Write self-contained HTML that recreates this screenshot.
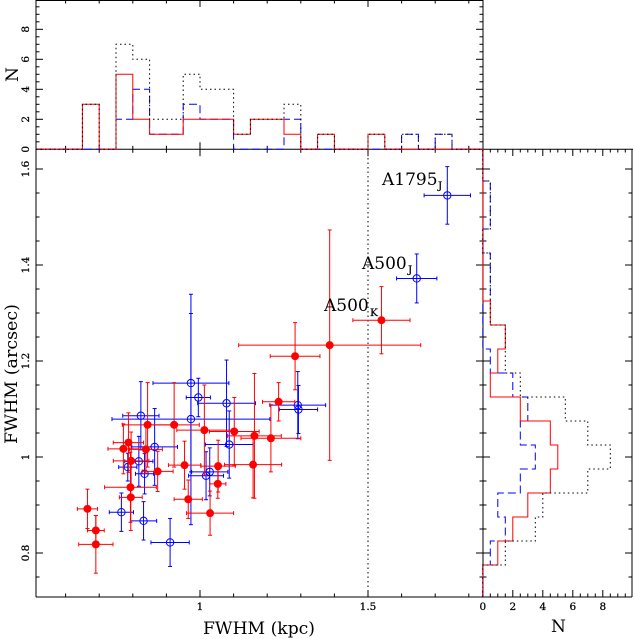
<!DOCTYPE html>
<html>
<head>
<meta charset="utf-8">
<title>FWHM chart</title>
<style>
html,body{margin:0;padding:0;background:#fff;}
svg{display:block;}
text{font-family:"DejaVu Serif","Liberation Serif",serif;fill:#000;}
.tick{font-size:10.5px;stroke:#000;stroke-width:0.25px;}
.lab{font-size:17px;}
.sub{font-size:10.5px;stroke:#000;stroke-width:0.25px;}
</style>
</head>
<body>
<svg id="chart" width="633" height="639" viewBox="0 0 633 639" xmlns="http://www.w3.org/2000/svg">
<defs>
<clipPath id="top-clip"><rect x="36" y="0" width="447" height="150"/></clipPath>
<clipPath id="right-clip"><rect x="482" y="149" width="150" height="448"/></clipPath>
<clipPath id="main-clip"><rect x="36" y="149" width="447" height="448"/></clipPath>
</defs>
<rect x="0" y="0" width="633" height="639" fill="#fff"/>
<g id="axes"></g>
<g id="marks-main" clip-path="url(#main-clip)"></g>
<g id="hist-top" clip-path="url(#top-clip)"></g>
<g id="hist-right" clip-path="url(#right-clip)"></g>
<text class="lab" x="203" y="634" textLength="112" lengthAdjust="spacingAndGlyphs">FWHM (kpc)</text>
<text class="lab" transform="translate(17,444) rotate(-90)" x="0" y="0" textLength="140" lengthAdjust="spacingAndGlyphs">FWHM (arcsec)</text>
<text class="lab" transform="translate(18,82) rotate(-90)" x="0" y="0">N</text>
<text class="lab" x="551" y="632">N</text>
<g><text class="lab" x="382" y="185">A1795</text><text class="sub" x="438" y="189">J</text></g>
<g><text class="lab" x="362" y="269">A500</text><text class="sub" x="408" y="273">J</text></g>
<g><text class="lab" x="324" y="311">A500</text><text class="sub" x="370" y="316">K</text></g>
</svg>
<script>
const redX = [0.665,0.690,0.690,0.794,0.793,0.965,0.844,0.923,1.013,1.102,1.162,1.211,1.234,1.158,1.054,0.954,1.053,1.030,0.787,0.772,0.839,0.795,0.874,1.540,1.386,1.283];
const redY = [0.892,0.847,0.818,0.916,0.937,0.912,1.067,1.067,1.056,1.053,1.044,1.039,1.115,0.984,0.981,0.983,0.944,0.883,1.030,1.017,1.016,0.992,0.970,1.285,1.233,1.210];
const redXErr = [0.030,0.025,0.051,0.034,0.077,0.042,0.075,0.075,0.082,0.074,0.080,0.089,0.048,0.085,0.051,0.048,0.024,0.070,0.045,0.046,0.049,0.053,0.046,0.085,0.271,0.074];
const redYErr = [0.041,0.031,0.060,0.069,0.073,0.040,0.088,0.088,0.094,0.071,0.130,0.070,0.040,0.069,0.054,0.050,0.030,0.046,0.062,0.052,0.050,0.060,0.042,0.070,0.240,0.070];
const blueX = [1.736,1.645,0.973,0.973,0.995,1.079,1.087,1.291,1.293,1.029,1.018,0.824,0.865,0.818,0.785,0.835,0.766,0.832,0.911];
const blueY = [1.545,1.372,1.154,1.079,1.124,1.112,1.026,1.108,1.099,0.969,0.961,1.086,1.021,0.991,0.979,0.965,0.885,0.867,0.822];
const blueXErr = [0.069,0.060,0.113,0.235,0.036,0.086,0.071,0.083,0.057,0.054,0.052,0.054,0.068,0.042,0.027,0.027,0.036,0.039,0.057];
const blueYErr = [0.060,0.051,0.185,0.220,0.040,0.090,0.070,0.070,0.050,0.050,0.050,0.071,0.080,0.052,0.029,0.042,0.040,0.040,0.050];

const topBinStarts = [0.65,0.70,0.75,0.80,0.85,0.90,0.95,1.00,1.05,1.10,1.15,1.20,1.25,1.30,1.35,1.40,1.45,1.50,1.55,1.60,1.65,1.70,1.75,1.80];
const topRed = [3,0,5,2,1,1,2,2,2,1,2,2,1,0,1,0,0,1,0,0,0,0,0,0];
const topBlue = [0,0,2,4,1,1,3,2,2,0,0,0,2,0,0,0,0,0,0,1,0,1,0,0];
const topTotal = [3,0,7,6,2,2,5,4,4,1,2,2,3,0,1,0,0,1,0,1,0,1,0,0];

const rightBinStarts = [0.775,0.825,0.875,0.925,0.975,1.025,1.075,1.125,1.175,1.225,1.275,1.325,1.375,1.425,1.475,1.525,1.575];
const rightRed = [1,2,3,4.5,5,4.5,2.5,0.5,1,1.5,0.5,0,0,0,0,0,0];
const rightBlue = [0.5,1.5,1,2.5,3.5,2.5,3,2,0.5,0,0,0.5,0.5,0,0.5,0.5,0];
const rightTotal = [1.5,3.5,4,7,8.5,7,5.5,2.5,1.5,1.5,0.5,0.5,0.5,0,0.5,0.5,0];

const xTickValues = [0.6,0.7,0.8,0.9,1.0,1.1,1.2,1.3,1.4,1.5,1.6,1.7,1.8];
const xMajorValues = [1.0,1.5];
const xMajorLabels = ["1","1.5"];
const yTickValues = [0.75,0.8,0.85,0.9,0.95,1.0,1.05,1.1,1.15,1.2,1.25,1.3,1.35,1.4,1.45,1.5,1.55,1.6];
const yMajorValues = [0.8,1.0,1.2,1.4,1.6];
const yMajorLabels = ["0.8","1","1.2","1.4","1.6"];
const nTickValues = [0,0.5,1,1.5,2,2.5,3,3.5,4,4.5,5,5.5,6,6.5,7,7.5,8,8.5,9,9.5];
const nMajorValues = [0,2,4,6,8];
const nMajorLabels = ["0","2","4","6","8"];
const referenceX = [1.5];

function xScale(v){ return 200 + (v - 1) * 336; }
function yScale(v){ return 457 - (v - 1) * 480; }
function nTopScale(n){ return 149.3 - 15 * n; }
function nRightScale(n){ return 482.8 + 15 * n; }

const NS = 'http://www.w3.org/2000/svg';
const axes = document.getElementById('axes');
const main = document.getElementById('marks-main');
const histTop = document.getElementById('hist-top');
const histRight = document.getElementById('hist-right');

function addLine(parent, name, x1, y1, x2, y2, color, w, dash){
  const el = document.createElementNS(NS, 'line');
  el.setAttribute('x1', x1);
  el.setAttribute('y1', y1);
  el.setAttribute('x2', x2);
  el.setAttribute('y2', y2);
  el.setAttribute('stroke', color);
  el.setAttribute('stroke-width', w);
  if (dash) el.setAttribute('stroke-dasharray', dash);
  
  
  parent.appendChild(el);
  return el;
}
function addPath(parent, name, d, color, w, dash){
  const el = document.createElementNS(NS, 'path');
  el.setAttribute('d', d);
  el.setAttribute('fill', 'none');
  el.setAttribute('stroke', color);
  el.setAttribute('stroke-width', w);
  if (dash) el.setAttribute('stroke-dasharray', dash);
  
  
  parent.appendChild(el);
  return el;
}
function addText(parent, name, str, x, y, rot){
  const el = document.createElementNS(NS, 'text');
  el.setAttribute('class', 'tick');
  el.setAttribute('text-anchor', 'middle');
  if (rot) {
    el.setAttribute('transform', 'translate(' + x + ',' + y + ') rotate(-90)');
  } else {
    el.setAttribute('x', x);
    el.setAttribute('y', y);
  }
  el.textContent = str;
  
  
  parent.appendChild(el);
  return el;
}

/* histograms: blue under red, black dotted on top, flat at zero outside the bins */
function histTopPath(starts, counts){
  let d = 'M36 ' + nTopScale(0) + ' L' + xScale(starts[0]) + ' ' + nTopScale(0);
  starts.forEach(function(s, i){
    const w = starts[1] - starts[0];
    d += ' L' + xScale(s) + ' ' + nTopScale(counts[i]);
    d += ' L' + xScale(s + w) + ' ' + nTopScale(counts[i]);
  });
  return d + ' L' + xScale(starts[starts.length - 1] + starts[1] - starts[0]) + ' ' + nTopScale(0);
}
function histRightPath(starts, counts){
  let d = 'M' + nRightScale(0) + ' 597 L' + nRightScale(0) + ' ' + yScale(starts[0]);
  starts.forEach(function(s, i){
    const w = starts[1] - starts[0];
    d += ' L' + nRightScale(counts[i]) + ' ' + yScale(s);
    d += ' L' + nRightScale(counts[i]) + ' ' + yScale(s + w);
  });
  return d + ' L' + nRightScale(0) + ' ' + yScale(starts[starts.length - 1] + starts[1] - starts[0]) + ' L' + nRightScale(0) + ' 149';
}
const DOT = '1.5 3';
const DASH = '8 4';
addPath(histTop, 'top-blue-histogram', histTopPath(topBinStarts, topBlue), '#0000ff', 1, DASH);
addPath(histTop, 'top-red-histogram', histTopPath(topBinStarts, topRed), '#ff0000', 1);
addPath(histTop, 'top-total-histogram', histTopPath(topBinStarts, topTotal), '#000', 1, DOT);
addPath(histRight, 'right-blue-histogram', histRightPath(rightBinStarts, rightBlue), '#0000ff', 1, DASH);
addPath(histRight, 'right-red-histogram', histRightPath(rightBinStarts, rightRed), '#ff0000', 1);
addPath(histRight, 'right-total-histogram', histRightPath(rightBinStarts, rightTotal), '#000', 1, DOT);

/* reference line */
referenceX.forEach(function(v){
  addLine(main, 'reference-line', xScale(v), 149, xScale(v), 597, '#000', 1, DOT);
});

/* points */
function drawPoint(kind, color, x, y, xe, ye, filled){
  const g = document.createElementNS(NS, 'g');
  
  
  main.appendChild(g);
  const px = xScale(x), py = yScale(y);
  const x0 = xScale(x - xe), x1 = xScale(x + xe);
  const y0 = yScale(y - ye), y1 = yScale(y + ye);
  addLine(g, kind + '-x-error', x0, py, x1, py, color, 1);
  addLine(g, kind + '-y-error', px, y0, px, y1, color, 1);
  addLine(g, kind + '-cap', x0, py - 2, x0, py + 2, color, 1);
  addLine(g, kind + '-cap', x1, py - 2, x1, py + 2, color, 1);
  addLine(g, kind + '-cap', px - 2, y0, px + 2, y0, color, 1);
  addLine(g, kind + '-cap', px - 2, y1, px + 2, y1, color, 1);
  const c = document.createElementNS(NS, 'circle');
  c.setAttribute('cx', px);
  c.setAttribute('cy', py);
  c.setAttribute('r', filled ? 4 : 3.7);
  c.setAttribute('fill', filled ? color : 'none');
  c.setAttribute('stroke', filled ? 'none' : color);
  c.setAttribute('stroke-width', 1);
  
  
  g.appendChild(c);
}
blueX.forEach(function(v, i){
  drawPoint('blue', '#0000ff', v, blueY[i], blueXErr[i], blueYErr[i], false);
});
redX.forEach(function(v, i){
  drawPoint('red', '#ff0000', v, redY[i], redXErr[i], redYErr[i], true);
});

/* frames */
const K = '#000';
addLine(axes, 'top-panel-top-border', 36, 0.5, 483, 0.5, K, 1);
addLine(axes, 'main-left-border', 36, 0, 36, 597, K, 1);
addLine(axes, 'main-right-border', 483, 0, 483, 597, K, 1);
addLine(axes, 'panel-divider', 36, 149.3, 633, 149.3, K, 1);
addLine(axes, 'bottom-border', 36, 597, 632, 597, K, 1);
addLine(axes, 'right-panel-right-border', 632, 149, 632, 597, K, 1);

/* x ticks for scatter and top histogram */
xTickValues.forEach(function(v){
  const L = xMajorValues.indexOf(v) >= 0 ? 7 : 3.5;
  const p = xScale(v);
  addLine(axes, 'x-tick', p, 0, p, L, K, 1);
  addLine(axes, 'x-tick', p, 149.3 - L, p, 149.3 + L, K, 1);
  addLine(axes, 'x-tick', p, 597 - L, p, 597, K, 1);
});
xMajorValues.forEach(function(v, i){
  addText(axes, 'x-tick-label', xMajorLabels[i], xScale(v), 610, false);
});

/* y ticks for scatter and right histogram */
yTickValues.forEach(function(v){
  const L = yMajorValues.indexOf(v) >= 0 ? 7 : 3.5;
  const p = yScale(v);
  addLine(axes, 'y-tick', 36, p, 36 + L, p, K, 1);
  addLine(axes, 'y-tick', 483 - L, p, 483 + L, p, K, 1);
  addLine(axes, 'y-tick', 632 - L, p, 632, p, K, 1);
});
yMajorValues.forEach(function(v, i){
  addText(axes, 'y-tick-label', yMajorLabels[i], 29, yScale(v), true);
});

/* N ticks */
nTickValues.forEach(function(n){
  const L = nMajorValues.indexOf(n) >= 0 ? 7 : 3.5;
  const py = nTopScale(n);
  addLine(axes, 'top-n-tick', 36, py, 36 + L, py, K, 1);
  addLine(axes, 'top-n-tick', 483 - L, py, 483, py, K, 1);
  const px = nRightScale(n);
  addLine(axes, 'right-n-tick', px, 149, px, 149 + L, K, 1);
  addLine(axes, 'right-n-tick', px, 597 - L, px, 597, K, 1);
});
nMajorValues.forEach(function(n, i){
  addText(axes, 'top-n-tick-label', nMajorLabels[i], 29, nTopScale(n), true);
  addText(axes, 'right-n-tick-label', nMajorLabels[i], nRightScale(n), 610, false);
});
</script>
</body>
</html>
